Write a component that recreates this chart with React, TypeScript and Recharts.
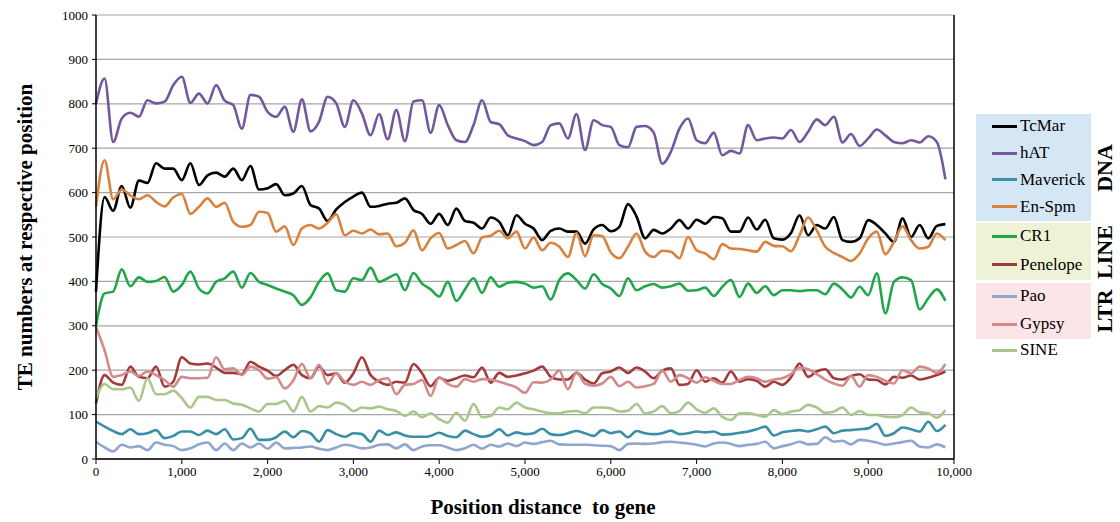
import React from 'react';
import { LineChart, Line, XAxis, YAxis, CartesianGrid, Legend, ReferenceLine } from 'recharts';

const FONT = '"Liberation Serif", "Times New Roman", serif';

// x positions (bp from gene), one point every 100
const positions = Array.from({ length: 100 }, (_, i) => i * 100);
const xTicks = [0, 1000, 2000, 3000, 4000, 5000, 6000, 7000, 8000, 9000, 10000];
const yTicks = [0, 100, 200, 300, 400, 500, 600, 700, 800, 900, 1000];

const tcMar = [
  377, 590, 559, 615, 566, 627, 622, 666, 654, 654, 628, 666, 617, 639, 645, 636, 654, 628, 660, 607,
  610, 619, 594, 598, 615, 572, 564, 536, 562, 579, 591, 600, 568, 570, 575, 577, 587, 561, 552, 530,
  552, 527, 564, 536, 532, 519, 544, 534, 504, 549, 530, 519, 493, 514, 519, 512, 512, 485, 517, 527,
  513, 523, 574, 546, 497, 516, 508, 519, 538, 519, 539, 530, 545, 542, 512, 512, 544, 517, 539, 497,
  494, 509, 549, 504, 527, 519, 545, 493, 489, 497, 538, 527, 508, 489, 542, 500, 527, 497, 525, 529,
];
const hAT = [
  800, 857, 714, 767, 780, 771, 808, 801, 805, 842, 861, 802, 823, 801, 842, 807, 797, 744, 820, 816,
  782, 771, 793, 737, 810, 738, 760, 816, 801, 748, 808, 778, 729, 777, 720, 786, 716, 805, 808, 735,
  797, 752, 718, 714, 752, 808, 759, 754, 729, 722, 716, 707, 714, 752, 756, 722, 777, 696, 763, 752,
  748, 707, 702, 748, 750, 735, 665, 692, 744, 767, 718, 711, 735, 684, 694, 688, 752, 718, 722, 724,
  722, 741, 714, 737, 765, 752, 771, 713, 732, 705, 722, 742, 729, 714, 711, 718, 713, 727, 714, 630,
];
const maverick = [
  84, 73, 63, 56, 67, 56, 58, 65, 47, 52, 62, 62, 54, 64, 56, 67, 44, 47, 68, 43,
  43, 49, 62, 49, 63, 58, 39, 65, 56, 50, 58, 56, 39, 64, 54, 60, 53, 50, 50, 52,
  59, 52, 49, 64, 56, 50, 54, 67, 53, 60, 56, 58, 68, 56, 54, 58, 63, 58, 52, 65,
  58, 62, 49, 63, 58, 56, 58, 64, 56, 58, 62, 60, 62, 55, 56, 59, 62, 67, 73, 53,
  60, 63, 65, 62, 67, 73, 58, 64, 65, 67, 69, 79, 52, 58, 71, 67, 62, 84, 63, 77,
];
const enSpm = [
  568, 673, 585, 607, 594, 585, 594, 579, 569, 589, 597, 552, 568, 587, 568, 577, 534, 523, 527, 557,
  554, 512, 524, 482, 519, 527, 519, 532, 551, 504, 514, 508, 517, 506, 508, 479, 487, 515, 470, 497,
  509, 474, 482, 491, 463, 499, 503, 514, 497, 512, 474, 499, 470, 487, 478, 455, 509, 457, 504, 502,
  465, 452, 478, 508, 467, 455, 469, 467, 452, 500, 470, 463, 450, 484, 474, 473, 470, 467, 489, 480,
  479, 468, 504, 544, 515, 478, 464, 455, 446, 463, 497, 512, 461, 489, 524, 493, 474, 478, 508, 493,
];
const cr1 = [
  300, 373, 377, 427, 389, 409, 399, 401, 410, 377, 392, 422, 384, 373, 399, 407, 422, 386, 419, 399,
  392, 384, 377, 369, 347, 364, 399, 418, 380, 377, 407, 403, 431, 399, 407, 416, 380, 419, 395, 382,
  366, 399, 356, 382, 407, 374, 409, 388, 397, 399, 395, 386, 389, 359, 403, 418, 403, 384, 416, 394,
  384, 367, 407, 380, 389, 394, 386, 389, 395, 379, 380, 386, 367, 388, 403, 365, 395, 374, 389, 369,
  380, 380, 378, 380, 380, 371, 395, 382, 364, 388, 369, 418, 328, 399, 409, 403, 337, 362, 382, 356,
];
const penelope = [
  125, 189, 172, 167, 208, 185, 182, 208, 163, 174, 229, 215, 213, 215, 206, 194, 194, 191, 219, 208,
  199, 187, 200, 212, 189, 182, 208, 189, 193, 172, 193, 229, 189, 174, 167, 174, 172, 214, 193, 164,
  183, 176, 182, 188, 184, 206, 172, 194, 185, 188, 193, 199, 208, 185, 179, 179, 194, 179, 170, 193,
  197, 206, 194, 206, 197, 182, 199, 204, 167, 169, 200, 174, 182, 172, 197, 174, 180, 176, 163, 174,
  167, 184, 215, 185, 197, 202, 182, 179, 187, 191, 179, 178, 168, 185, 183, 188, 179, 183, 189, 197,
];
const pao = [
  39, 26, 17, 32, 26, 29, 20, 37, 32, 29, 20, 24, 33, 37, 20, 35, 20, 35, 26, 35,
  23, 37, 24, 25, 26, 28, 23, 20, 26, 32, 29, 24, 26, 32, 33, 24, 33, 20, 28, 31,
  31, 26, 20, 24, 32, 23, 32, 28, 35, 29, 37, 34, 38, 41, 33, 32, 32, 32, 31, 30,
  29, 20, 34, 35, 34, 35, 38, 39, 37, 35, 32, 28, 35, 37, 34, 29, 32, 34, 39, 24,
  29, 33, 39, 33, 34, 49, 39, 41, 33, 43, 41, 37, 32, 35, 38, 41, 28, 26, 33, 26,
];
const gypsy = [
  298, 245, 185, 189, 197, 187, 197, 189, 178, 163, 185, 182, 182, 183, 229, 202, 204, 189, 208, 200,
  181, 184, 159, 177, 214, 182, 212, 169, 193, 174, 167, 174, 167, 178, 182, 146, 167, 169, 178, 142,
  184, 169, 163, 180, 174, 180, 179, 174, 168, 161, 149, 173, 172, 179, 199, 157, 195, 170, 165, 170,
  185, 164, 174, 161, 164, 169, 199, 174, 189, 182, 172, 184, 176, 169, 169, 178, 185, 182, 174, 179,
  182, 191, 206, 202, 191, 179, 170, 165, 187, 163, 189, 185, 176, 170, 200, 193, 208, 204, 194, 214,
];
const sine = [
  137, 169, 157, 157, 161, 131, 182, 146, 146, 154, 137, 116, 140, 140, 133, 133, 125, 122, 114, 107,
  124, 124, 131, 107, 140, 107, 119, 116, 127, 122, 108, 116, 114, 118, 112, 108, 97, 107, 94, 103,
  90, 82, 104, 86, 124, 94, 97, 116, 112, 127, 116, 112, 107, 103, 103, 107, 108, 103, 116, 116,
  114, 107, 109, 124, 103, 107, 119, 103, 108, 127, 112, 104, 114, 95, 88, 103, 103, 99, 95, 110,
  101, 107, 110, 122, 116, 104, 107, 116, 99, 108, 99, 99, 95, 94, 99, 116, 105, 103, 93, 110,
];

const series = [
  { name: 'TcMar', values: tcMar, color: '#000000' },
  { name: 'hAT', values: hAT, color: '#72589c' },
  { name: 'Maverick', values: maverick, color: '#3a8fa6' },
  { name: 'En-Spm', values: enSpm, color: '#d9823e' },
  { name: 'CR1', values: cr1, color: '#21a64b' },
  { name: 'Penelope', values: penelope, color: '#a33a3b' },
  { name: 'Pao', values: pao, color: '#8fa6d0' },
  { name: 'Gypsy', values: gypsy, color: '#d28a8a' },
  { name: 'SINE', values: sine, color: '#abc68c' },
];

const data = positions.map((pos, i) => {
  const row: Record<string, number> = { pos };
  series.forEach(s => { row[s.name] = s.values[i]; });
  return row;
});

const groups = [
  { label: 'DNA', keys: ['TcMar', 'hAT', 'Maverick', 'En-Spm'], bg: '#d5e6f5', top: 0, height: 107 },
  { label: 'LINE', keys: ['CR1', 'Penelope'], bg: '#eff3d6', top: 109, height: 57 },
  { label: 'LTR', keys: ['Pao', 'Gypsy'], bg: '#fce5e9', top: 169, height: 56 },
  { label: '', keys: ['SINE'], bg: 'transparent', top: 225, height: 24 },
];

const GroupedLegend = ({ payload }: any) => {
  const items = payload || [];
  return (
    <div style={{ position: 'relative', width: 150, height: 250, fontFamily: FONT }}>
      {groups.map(g => (
        <div key={g.keys[0]}>
          <div style={{ position: 'absolute', left: 0, top: g.top, width: 115, height: g.height, background: g.bg }}>
            {g.keys.map((k, idx) => {
              const it = items.find((p: any) => p.value === k);
              const rowH = g.label ? g.height / g.keys.length : g.height;
              return (
                <div key={k} style={{ position: 'absolute', left: 16, top: idx * rowH + rowH / 2 - 13, height: 24, display: 'flex', alignItems: 'center' }}>
                  <div style={{ width: 25, height: 3, background: it ? it.color : '#000', marginRight: 3 }} />
                  <span style={{ fontSize: 17, color: '#000', whiteSpace: 'nowrap', fontFamily: FONT }}>{k}</span>
                </div>
              );
            })}
          </div>
          {g.label && (
            <div style={{
              position: 'absolute', left: 129, top: g.top + g.height / 2,
              transform: 'translate(-50%, -50%) rotate(-90deg)',
              fontSize: 22, fontWeight: 'bold', whiteSpace: 'nowrap', color: '#000', fontFamily: FONT,
            }}>{g.label}</div>
          )}
        </div>
      ))}
    </div>
  );
};

export default function App() {
  return (
    <div style={{ position: 'absolute', left: 0, top: 0, width: 1120, height: 522, background: '#fff', fontFamily: FONT }}>
      <LineChart width={1120} height={522} data={data} margin={{ top: 15, right: 166, bottom: 0, left: 0 }}>
        <CartesianGrid vertical={false} stroke="#a6a6a6" strokeWidth={1.2} />
        <XAxis
          dataKey="pos" type="number" domain={[0, 10000]} ticks={xTicks}
          tickFormatter={(v: number) => v.toLocaleString('en-US')}
          tick={{ fontSize: 13, fill: '#000', fontFamily: FONT }}
          tickLine={{ stroke: '#000' }} axisLine={{ stroke: '#000', strokeWidth: 1.5 }}
          tickSize={5} tickMargin={3} height={63}
        />
        <YAxis
          domain={[0, 1000]} ticks={yTicks} width={96}
          tick={{ fontSize: 13, fill: '#000', fontFamily: FONT }}
          tickLine={{ stroke: '#000' }} axisLine={{ stroke: '#000', strokeWidth: 1.5 }}
          tickSize={4} tickMargin={4}
        />
        <ReferenceLine x={10000} stroke="#000" strokeWidth={1.5} />
        <Legend
          layout="horizontal" verticalAlign="middle" align="center"
          content={<GroupedLegend />}
          wrapperStyle={{ position: 'absolute', left: 976, top: 114, width: 150, height: 250, margin: 0 }}
        />
        {series.map(s => (
          <Line
            key={s.name} name={s.name} dataKey={s.name} type="monotone"
            stroke={s.color} strokeWidth={2.6} dot={false} isAnimationActive={false}
          />
        ))}
      </LineChart>
      <div style={{
        position: 'absolute', left: 25, top: 237, transform: 'translate(-50%, -50%) rotate(-90deg)',
        fontSize: 21, fontWeight: 'bold', whiteSpace: 'nowrap', color: '#000',
      }}>TE numbers at respective position</div>
      <div style={{
        position: 'absolute', left: 543, top: 507, transform: 'translate(-50%, -50%)',
        fontSize: 21, fontWeight: 'bold', whiteSpace: 'pre', color: '#000',
      }}>Position distance  to gene</div>
    </div>
  );
}
